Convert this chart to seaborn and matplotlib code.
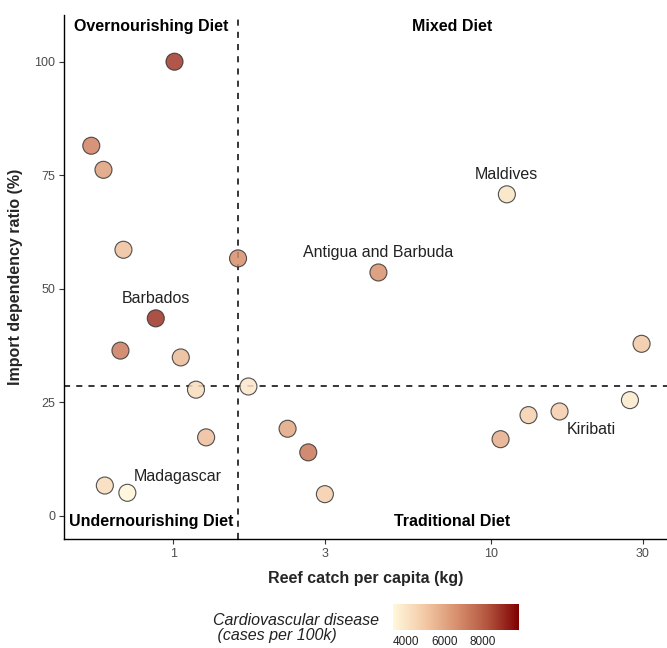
import numpy as np
import pandas as pd
import matplotlib
matplotlib.use("Agg")
import matplotlib.pyplot as plt
import seaborn as sns
from matplotlib.colors import LinearSegmentedColormap, Normalize
from matplotlib.cm import ScalarMappable

# values
reef_catch = [1.01, 0.553, 0.604, 0.698, 1.6, 0.882, 0.683, 1.057, 1.18, 1.725, 1.27, 0.61,
              0.718, 2.29, 2.66, 3.0, 4.42, 11.2, 29.7, 27.3, 13.1, 16.4, 10.7]
import_ratio = [100, 81.5, 76.2, 58.6, 56.7, 43.5, 36.4, 34.9, 27.8, 28.5, 17.3, 6.7,
                5.1, 19.2, 14.0, 4.8, 53.6, 70.8, 37.9, 25.5, 22.2, 23.0, 16.9]
cvd = [8800, 7000, 6200, 5200, 6700, 8900, 7200, 5400, 4300, 3900, 5300, 4300,
       3400, 6000, 7300, 4800, 6600, 4000, 5000, 3800, 4700, 4800, 5800]
country = ["", "", "", "", "", "Barbados", "", "", "", "", "", "",
           "Madagascar", "", "", "", "Antigua and Barbuda", "Maldives", "", "", "", "Kiribati", ""]

x_thresh = 1.6
y_thresh = 28.5

df = pd.DataFrame({"catch": reef_catch, "ratio": import_ratio, "cvd": cvd, "country": country})

sns.set_style("white")
plt.rcParams["font.family"] = ["Liberation Sans", "DejaVu Sans"]

cmap = LinearSegmentedColormap.from_list(
    "cvd", ["#FFF8DC", "#F3C9A6", "#D9916F", "#B3553F", "#800000"])
norm = Normalize(3300, 9900)

fig = plt.figure(figsize=(6.67, 6.48), dpi=100)
ax = fig.add_axes([0.096, 0.168, 0.904, 0.809])

sns.scatterplot(data=df, x="catch", y="ratio", hue="cvd", palette=cmap, hue_norm=norm,
                s=150, edgecolor="#333333", linewidth=0.8, alpha=0.85, legend=False,
                zorder=3, ax=ax)

ax.set_xscale("log")
ax.set_xlim(0.454, 35.7)
ax.set_ylim(-5.1, 110.3)
ax.set_xticks([1, 3, 10, 30])
ax.set_xticklabels(["1", "3", "10", "30"])
ax.minorticks_off()
ax.set_yticks([0, 25, 50, 75, 100])

ax.axvline(x_thresh, color="black", lw=1.1, ls=(0, (4, 4)), zorder=2)
ax.axhline(y_thresh, color="black", lw=1.1, ls=(0, (4, 4)), zorder=2)

# country labels
offsets = {"Barbados": (0, 14), "Madagascar": (36, 11.5), "Antigua and Barbuda": (0, 14.5),
           "Maldives": (0, 14), "Kiribati": (23, -13)}
for _, r in df[df["country"] != ""].iterrows():
    ax.annotate(r["country"], (r["catch"], r["ratio"]), xytext=offsets[r["country"]],
                textcoords="offset points", ha="center", va="center", fontsize=11.5,
                color="#222222", zorder=4)

# quadrant labels
xmin, xmax = ax.get_xlim()
left_x = np.sqrt(xmin * x_thresh)
right_x = np.sqrt(xmax * x_thresh)
kw = dict(ha="center", va="center", fontsize=11.5, fontweight="bold", color="black")
ax.text(left_x, 107.8, "Overnourishing Diet", **kw)
ax.text(right_x, 107.8, "Mixed Diet", **kw)
ax.text(left_x, -1.2, "Undernourishing Diet", **kw)
ax.text(right_x, -1.2, "Traditional Diet", **kw)

sns.despine(ax=ax)
for s in ["left", "bottom"]:
    ax.spines[s].set_color("black")
    ax.spines[s].set_linewidth(1.0)
ax.tick_params(axis="both", which="major", length=3.5, width=0.8, color="#333333",
               labelsize=9, labelcolor="#4D4D4D", bottom=True, left=True, pad=3)

ax.set_xlabel("Reef catch per capita (kg)", fontsize=11.5, fontweight="bold", labelpad=8)
ax.set_ylabel("Import dependency ratio (%)", fontsize=11.5, fontweight="bold", labelpad=8)

# colour bar legend
cax = fig.add_axes([0.589, 0.0278, 0.189, 0.040])
cb = fig.colorbar(ScalarMappable(norm=norm, cmap=cmap), cax=cax, orientation="horizontal")
cb.outline.set_visible(False)
cb.set_ticks([4000, 6000, 8000])
cax.tick_params(axis="x", direction="in", color="white", length=3, width=0.8,
                bottom=True, top=True, labelsize=8.5, labelcolor="#222222", pad=4)
fig.text(0.319, 0.031, "Cardiovascular disease\n (cases per 100k)", ha="left", va="center",
         fontsize=11.5, style="italic", color="#222222", linespacing=1.0)

fig.savefig("out.png", dpi=100)
